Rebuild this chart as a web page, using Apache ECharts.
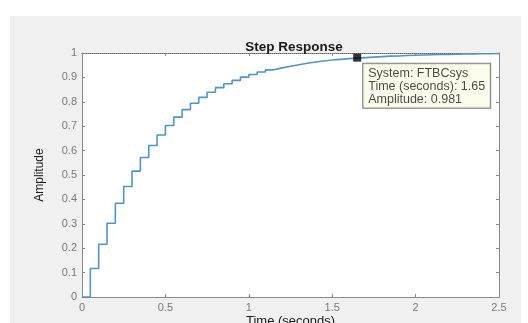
<!DOCTYPE html>
<html>
<head>
<meta charset="utf-8">
<script src="https://cdn.jsdelivr.net/npm/echarts@6/dist/echarts.min.js"></script>
<style>
html,body{margin:0;padding:0;background:#ffffff;}
#frame{position:absolute;left:10px;top:16px;width:511px;height:307px;background:#f0f0f0;}
#chart{position:absolute;left:0;top:0;width:528px;height:323px;}
</style>
</head>
<body>
<div id="frame"></div>
<div id="chart"></div>
<script>
// Sample times (seconds) and step-response amplitudes
const times = [0,0.05,0.10,0.15,0.20,0.25,0.30,0.35,0.40,0.45,0.50,0.55,0.60,0.65,0.70,0.75,0.80,0.85,0.90,0.95,1.00,1.05,1.10,1.15,1.20,1.25,1.30,1.35,1.40,1.45,1.50,1.55,1.60,1.65,1.70,1.75,1.80,1.85,1.90,1.95,2.00,2.05,2.10,2.15,2.20,2.25,2.30,2.35,2.40,2.45,2.50];
const amplitude = [0,0.117,0.216,0.302,0.384,0.453,0.516,0.572,0.621,0.664,0.703,0.737,0.768,0.794,0.818,0.839,0.858,0.874,0.888,0.901,0.912,0.922,0.931,0.939,0.946,0.952,0.958,0.963,0.967,0.971,0.974,0.977,0.979,0.981,0.983,0.985,0.987,0.988,0.990,0.991,0.992,0.993,0.994,0.994,0.995,0.996,0.996,0.997,0.997,0.998,0.998];
const xTicks = [0,0.5,1,1.5,2,2.5];
const yTicks = [0,0.1,0.2,0.3,0.4,0.5,0.6,0.7,0.8,0.9,1];
const tipPoint = [1.65, 0.981];
const tipLines = ['System: FTBCsys','Time (seconds): 1.65','Amplitude: 0.981'];

const chart = echarts.init(document.getElementById('chart'), null, {renderer:'canvas'});
const axisGray = '#8a8a8a';
const labelGray = '#7a7a7a';
const fmt = v => String(Math.round(v*100)/100);

chart.setOption({
  backgroundColor: 'transparent',
  animation: false,
  title: {
    text: 'Step Response',
    left: 289, top: 35, textAlign: 'center',
    textStyle: {fontFamily:'Liberation Sans', fontSize: 13.5, fontWeight: 'bold', color: '#1a1a1a'}
  },
  grid: {left: 82, right: 29, top: 53, bottom: 26, outerBoundsMode: 'none', containLabel: false,
         show: true, backgroundColor: '#ffffff', borderWidth: 0},
  xAxis: [{
    type: 'value', min: xTicks[0], max: xTicks[xTicks.length-1], interval: 0.5,
    name: 'Time (seconds)', nameLocation: 'middle', nameGap: 18, nameMoveOverlap: false,
    nameTextStyle: {fontFamily:'Liberation Sans', fontSize: 13, color: '#1a1a1a'},
    axisLine: {onZero: false, lineStyle: {color: axisGray, width: 1}},
    axisTick: {inside: true, length: 3, lineStyle: {color: axisGray}},
    axisLabel: {formatter: fmt, fontFamily:'Liberation Sans', fontSize: 11, color: labelGray, margin: 5},
    splitLine: {show: false}
  },{
    type: 'value', position: 'top', min: xTicks[0], max: xTicks[xTicks.length-1], interval: 0.5,
    axisLine: {show: true, onZero: false, lineStyle: {color: '#606060', width: 1, type: 'dotted'}},
    axisTick: {show: true, inside: true, length: 3, lineStyle: {color: axisGray}},
    axisLabel: {show: false}, splitLine: {show: false}
  }],
  yAxis: [{
    type: 'value', min: yTicks[0], max: yTicks[yTicks.length-1], interval: 0.1,
    name: 'Amplitude', nameLocation: 'middle', nameGap: 36, nameRotate: 90, nameMoveOverlap: false,
    nameTextStyle: {fontFamily:'Liberation Sans', fontSize: 12, color: '#1a1a1a'},
    axisLine: {show: true, onZero: false, lineStyle: {color: axisGray, width: 1}},
    axisTick: {show: true, inside: true, length: 3, lineStyle: {color: axisGray}},
    axisLabel: {formatter: fmt, fontFamily:'Liberation Sans', fontSize: 11, color: labelGray, margin: 5},
    splitLine: {show: false}
  },{
    type: 'value', position: 'right', min: yTicks[0], max: yTicks[yTicks.length-1], interval: 0.1,
    axisLine: {show: true, onZero: false, lineStyle: {color: axisGray, width: 1}},
    axisTick: {show: true, inside: true, length: 3, lineStyle: {color: axisGray}},
    axisLabel: {show: false}, splitLine: {show: false}
  }],
  series: [{
    type: 'line', step: 'end', showSymbol: false,
    data: times.map((t,i) => [t, amplitude[i]]),
    lineStyle: {color: '#5294c6', width: 1.6},
    z: 2
  },{
    type: 'scatter', symbol: 'rect', symbolSize: 8,
    data: [tipPoint],
    itemStyle: {color: '#000000'},
    z: 5,
    label: {
      show: true, position: [10, 10],
      formatter: tipLines.join('\n'),
      fontFamily: 'Liberation Sans', fontSize: 12.5, color: '#1a1a1a', lineHeight: 13,
      backgroundColor: '#fbfbe8', borderColor: '#5a5a5a', borderWidth: 1,
      padding: [3, 5, 2, 5]
    }
  }]
});
</script>
</body>
</html>
